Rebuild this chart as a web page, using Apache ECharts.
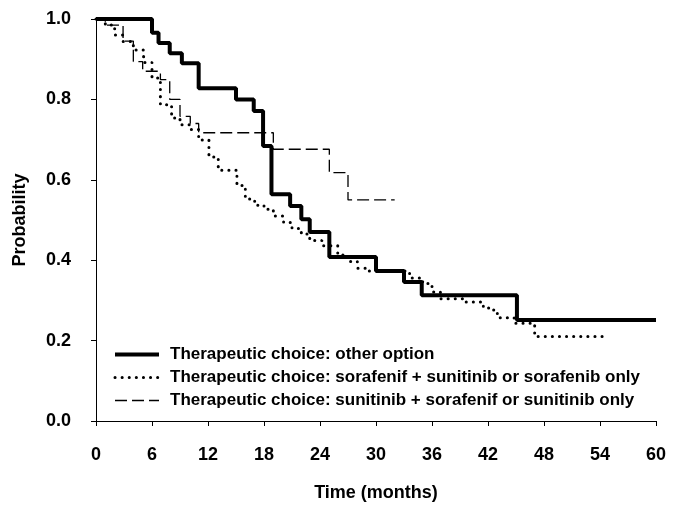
<!DOCTYPE html>
<html><head><meta charset="utf-8">
<script src="https://cdn.jsdelivr.net/npm/echarts@6/dist/echarts.min.js"></script>
<style>html,body{margin:0;padding:0;background:#fff}#c{width:690px;height:507px}</style>
</head><body><div id="c"></div>
<script>
const xTicks = [0, 6, 12, 18, 24, 30, 36, 42, 48, 54, 60];
const yTicks = [0.0, 0.2, 0.4, 0.6, 0.8, 1.0];
const seriesNames = [
  "Therapeutic choice: other option",
  "Therapeutic choice: sorafenif + sunitinib or sorafenib only",
  "Therapeutic choice: sunitinib + sorafenif or sunitinib only"
];
const timeOther = [0, 6, 6.7, 7.9, 9.2, 11, 15, 16.9, 17.9, 18.8, 20.8, 22, 22.9, 25, 30, 33, 34.9, 45.1, 60];
const probOther = [1, 0.966, 0.94, 0.915, 0.89, 0.828, 0.80, 0.771, 0.684, 0.564, 0.535, 0.502, 0.47, 0.408, 0.373, 0.346, 0.313, 0.251, 0.251];
const timeSor = [0, 1, 2, 2.9, 4, 5.1, 6, 6.9, 8.1, 9, 10.1, 11, 12.1, 13.1, 15.1, 16, 17, 18, 19, 20.1, 21, 22, 22.9, 24.2, 25.9, 27, 28, 29.2, 33.6, 35, 36, 36.9, 39.3, 41.5, 42.5, 43, 44.8, 47, 54.9];
const probSor = [1, 0.985, 0.96, 0.944, 0.923, 0.892, 0.853, 0.787, 0.754, 0.737, 0.725, 0.699, 0.657, 0.624, 0.586, 0.552, 0.537, 0.527, 0.51, 0.494, 0.479, 0.465, 0.449, 0.436, 0.413, 0.397, 0.38, 0.373, 0.356, 0.342, 0.321, 0.304, 0.296, 0.281, 0.276, 0.257, 0.243, 0.21, 0.21];
const timeSun = [0, 1, 2.9, 4, 5, 6.9, 7.9, 9, 10.1, 11, 19, 25, 27, 32];
const probSun = [1, 0.985, 0.945, 0.894, 0.87, 0.849, 0.80, 0.758, 0.74, 0.717, 0.676, 0.618, 0.55, 0.55];

const pair = (t, p) => t.map((v, i) => [v, p[i]]);
const FONT = "'Liberation Sans', Arial, sans-serif";
const styleSolid = {color: '#000', width: 4};
const styleDot = {color: '#000', width: 3, type: [0.1, 7], cap: 'round'};
const styleDash = {color: '#000', width: 1.3, type: [12, 5]};
const chart = echarts.init(document.getElementById('c'), null, {renderer: 'canvas'});
chart.setOption({
  animation: false,
  backgroundColor: '#fff',
  grid: {left: 96, right: 34, top: 19, bottom: 84},
  xAxis: {
    type: 'value', min: xTicks[0], max: xTicks[xTicks.length - 1], interval: 6,
    offset: 10,
    name: 'Time (months)', nameLocation: 'middle', nameGap: 53,
    nameTextStyle: {fontFamily: FONT, fontWeight: 'bold', fontSize: 18, color: '#000'},
    axisLine: {show: true, lineStyle: {color: '#000', width: 1}},
    axisTick: {show: true, length: 5, lineStyle: {color: '#000'}},
    axisLabel: {margin: 15, fontFamily: FONT, fontWeight: 'bold', fontSize: 18, color: '#000'},
    splitLine: {show: false}
  },
  yAxis: {
    type: 'value', min: yTicks[0], max: yTicks[yTicks.length - 1], interval: 0.2,
    offset: 11,
    name: 'Probability', nameLocation: 'middle', nameGap: 56, nameRotate: 90,
    nameTextStyle: {fontFamily: FONT, fontWeight: 'bold', fontSize: 18, color: '#000'},
    axisLine: {show: true, lineStyle: {color: '#000', width: 1}},
    axisTick: {show: true, length: 5, lineStyle: {color: '#000'}},
    axisLabel: {margin: 14, fontFamily: FONT, fontWeight: 'bold', fontSize: 18, color: '#000',
      formatter: v => v.toFixed(1)},
    splitLine: {show: false}
  },
  legend: {
    orient: 'vertical', left: 108, top: 338,
    itemWidth: 44, itemHeight: 14, itemGap: 0,
    data: [
      {name: seriesNames[0], lineStyle: styleSolid},
      {name: seriesNames[1], lineStyle: styleDot},
      {name: seriesNames[2], lineStyle: styleDash}
    ],
    itemStyle: {opacity: 0},
    textStyle: {fontFamily: FONT, fontWeight: 'bold', fontSize: 17, color: '#000', lineHeight: 23,
      padding: [0, 0, 0, 6]}
  },
  series: [
    {name: seriesNames[2], type: 'line', step: 'end', showSymbol: false, symbol: 'none', clip: false, z: 2,
      data: pair(timeSun, probSun), lineStyle: styleDash, itemStyle: {color: '#000'}},
    {name: seriesNames[1], type: 'line', step: 'end', showSymbol: false, symbol: 'none', clip: false, z: 3,
      data: pair(timeSor, probSor), lineStyle: styleDot, itemStyle: {color: '#000'}},
    {name: seriesNames[0], type: 'line', step: 'end', showSymbol: false, symbol: 'none', clip: false, z: 4,
      data: pair(timeOther, probOther), lineStyle: styleSolid, itemStyle: {color: '#000'}}
  ]
});
</script>
</body></html>
